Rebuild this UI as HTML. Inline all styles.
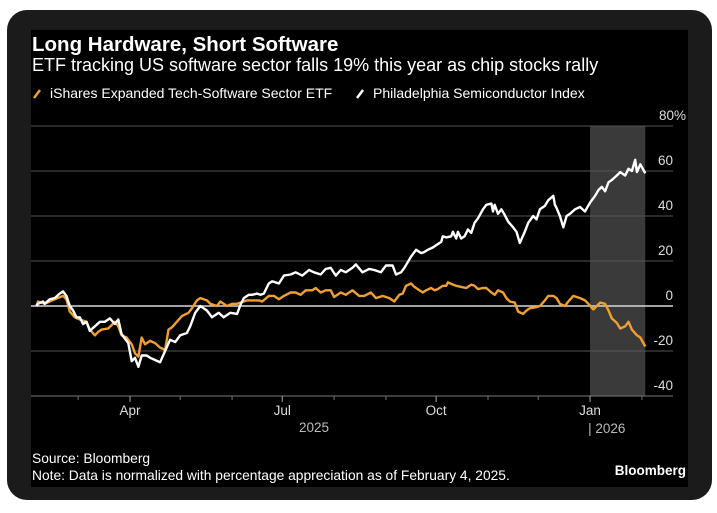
<!DOCTYPE html>
<html><head><meta charset="utf-8"><style>
html,body{margin:0;padding:0;background:#fff;}
svg{display:block;font-family:"Liberation Sans",sans-serif;}
</style></head><body>
<svg id="chart" width="717" height="513" viewBox="0 0 717 513">
<rect x="7" y="10" width="705" height="490" rx="20" fill="#1b1b1b"/>
<rect x="31" y="30" width="657" height="457" fill="#000"/>
<text x="32" y="51" font-size="20.5" font-weight="bold" fill="#fff">Long Hardware, Short Software</text>
<text x="32" y="71" font-size="18" fill="#fff">ETF tracking US software sector falls 19% this year as chip stocks rally</text>
<g>
<line x1="34" y1="98" x2="40" y2="90" stroke="#f0a030" stroke-width="2.5"/>
<text x="50" y="98" font-size="14" fill="#fff">iShares Expanded Tech-Software Sector ETF</text>
<line x1="357" y1="98" x2="363" y2="90" stroke="#fff" stroke-width="2.5"/>
<text x="373" y="98" font-size="14" fill="#fff">Philadelphia Semiconductor Index</text>
</g>
<g id="plot"></g>
<text x="32" y="463" font-size="13.8" fill="#fff">Source: Bloomberg</text>
<text x="32" y="480" font-size="13.8" fill="#fff">Note: Data is normalized with percentage appreciation as of February 4, 2025.</text>
<text x="686" y="475" font-size="13.5" font-weight="bold" fill="#fff" text-anchor="end">Bloomberg</text>
</svg>
<script>
const yTicks = [80, 60, 40, 20, 0, -20, -40];
const monthLabels = ["Apr", "Jul", "Oct", "Jan"];
const monthLabelDays = [56, 147, 239, 331];
const minorTickDays = [25, 86, 117, 178, 209, 270, 300, 362];
const shadeStartDay = 331;
const shadeEndDay = 364;
const semiDays = [0,1,4,5,8,11,14,16,18,20,22,24,26,28,30,32,35,38,41,44,47,49,51,55,57,59,61,63,66,68,71,74,77,80,83,86,90,92,95,98,102,105,109,112,116,120,122,124,127,129,132,134,136,139,141,145,148,152,155,159,163,166,170,173,176,179,182,185,189,191,195,199,202,206,209,213,215,218,220,224,227,230,232,234,237,239,242,243,245,248,249,251,252,254,256,258,260,262,264,267,269,272,273,274,276,278,280,282,285,287,289,292,294,297,299,301,304,306,309,310,311,313,315,317,319,322,325,328,331,334,336,338,340,342,344,347,349,352,354,356,358,359,361,364];
const semiValues = [0,1,2,1,3,3.5,5.5,6.5,4.5,0,-2,-5,-5,-8,-7,-11,-9,-7,-7,-5.5,-8,-6,-12.5,-16.5,-24.5,-23,-27,-22,-22,-23,-24,-25,-20,-15,-16,-13,-12,-9,-3,0,-2,-5,-3,-5,-3,-3.5,0.5,3.5,5,5,5.5,5,5.5,10,11,10,13.5,14,15,13.5,16,15,14,16.5,17,13.5,16,15,17,18.5,15,16.5,16,15,18,18,14,15,17,22,25,23.5,24,25,26,27,28.5,31,30.5,31,33,30,33,30,31,34,32.5,37,39,43,45,45.5,42,45,41,43,40.5,37.5,35,33,28,33,37,40,38.5,43,44.5,47,49,45,43.5,40,35,40,41,43,44,42,46,49,51.5,53,51,55,56,58,59.5,58,61,60,65,59.5,63,59];
const softDays = [0,1,5,8,11,16,18,20,23,26,30,32,35,37,39,43,47,49,51,54,57,59,61,63,65,68,71,74,77,79,81,84,87,91,93,96,98,102,104,108,110,114,117,120,122,126,129,133,135,139,142,145,148,152,155,158,161,165,167,170,173,176,178,182,185,189,193,196,200,203,207,211,214,217,219,221,224,226,229,231,233,236,238,240,243,245,246,249,251,254,257,260,262,264,267,269,272,274,276,279,281,283,286,288,291,293,295,299,301,304,306,309,311,313,316,318,321,323,325,328,330,333,335,337,340,342,344,347,349,352,354,356,359,361,364];
const softValues = [0,2,1,2,3,4.5,3,-2.5,-5,-6,-7,-10.5,-13,-11.5,-10.5,-10,-7,-9,-13,-14,-17,-21,-22.5,-14,-17,-15.5,-16.5,-18.5,-19.5,-10.5,-9.5,-7,-4.5,-3,-1,2.5,3.5,2.5,1,0,2,0,1,1,1.5,2.5,2.5,2.5,2,4.5,4.5,3,4.5,6,6,5,7,7,8,6,7,7,4,6,5,7,4.5,4.5,6,3.5,4.5,3.5,2,5,5.5,9,10,8.5,7,6,7,8,7,7.5,9,9,10.5,9.5,9,8.5,8,9.5,9,7.5,8,8,6,5,7,6,3.5,2,1.5,-2.5,-3.5,-2,-1,-0.5,0,2.5,4.5,4.5,3.5,1,0,2,4.5,4,3.5,2.5,1,-1.5,0,1.5,1,-2,-5.5,-7.5,-10,-9,-7,-10.5,-13,-14,-18];

const NS = "http://www.w3.org/2000/svg";
const plot = document.getElementById("plot");
const X0 = 36.3, PXD = 1.673;
const xScale = d => X0 + d * PXD;
const yScale = v => 306 - v * 2.25;
const PL = 31, PR = 673;
function mk(tag, attrs){ const e = document.createElementNS(NS, tag); for (const k in attrs) e.setAttribute(k, attrs[k]); plot.appendChild(e); return e; }

const shade = mk("rect", {x: xScale(shadeStartDay), y: yScale(80), width: xScale(shadeEndDay) - xScale(shadeStartDay), height: yScale(-40) - yScale(80), fill: "#3a3a3a"});



yTicks.forEach(t => {
  const y = yScale(t);
  const g = mk("line", {x1: PL, x2: PR, y1: y, y2: y, stroke: t === 0 ? "#d8d8d8" : (t === -40 ? "#777" : "#555"), "stroke-width": t === 0 ? 1.5 : 1});
  
  
  const lb = mk("text", {x: t === 80 ? 686 : 673, y: y - 6, "text-anchor": "end", "font-size": 13.5, fill: "#ddd"});
  lb.textContent = t === 80 ? "80%" : String(t);
  
  
});

minorTickDays.forEach(d => {
  const tk = mk("line", {x1: xScale(d), x2: xScale(d), y1: yScale(-40), y2: yScale(-40) + 4, stroke: "#777"});
  
  
});
monthLabels.forEach((m, i) => {
  const x = xScale(monthLabelDays[i]);
  const tk = mk("line", {x1: x, x2: x, y1: yScale(-40), y2: yScale(-40) + 6, stroke: "#aaa"});
  
  
  const lb = mk("text", {x: x, y: yScale(-40) + 19, "text-anchor": "middle", "font-size": 13.5, fill: "#ddd"});
  lb.textContent = m;
  
  
});
const y25 = mk("text", {x: 314, y: 432, "text-anchor": "middle", "font-size": 13.5, fill: "#bbb"});
y25.textContent = "2025";


const y26 = mk("text", {x: xScale(331) - 2, y: 433, "font-size": 13.5, fill: "#bbb"});
y26.textContent = "| 2026";



function linePath(days, vals){ return days.map((d, i) => (i ? "L" : "M") + xScale(d).toFixed(1) + " " + yScale(vals[i]).toFixed(1)).join(" "); }
const soft = mk("path", {d: linePath(softDays, softValues), fill: "none", stroke: "#f0a030", "stroke-width": 2.4, "stroke-linejoin": "round"});


const semi = mk("path", {d: linePath(semiDays, semiValues), fill: "none", stroke: "#fff", "stroke-width": 2.4, "stroke-linejoin": "round"});


</script>
</body></html>
